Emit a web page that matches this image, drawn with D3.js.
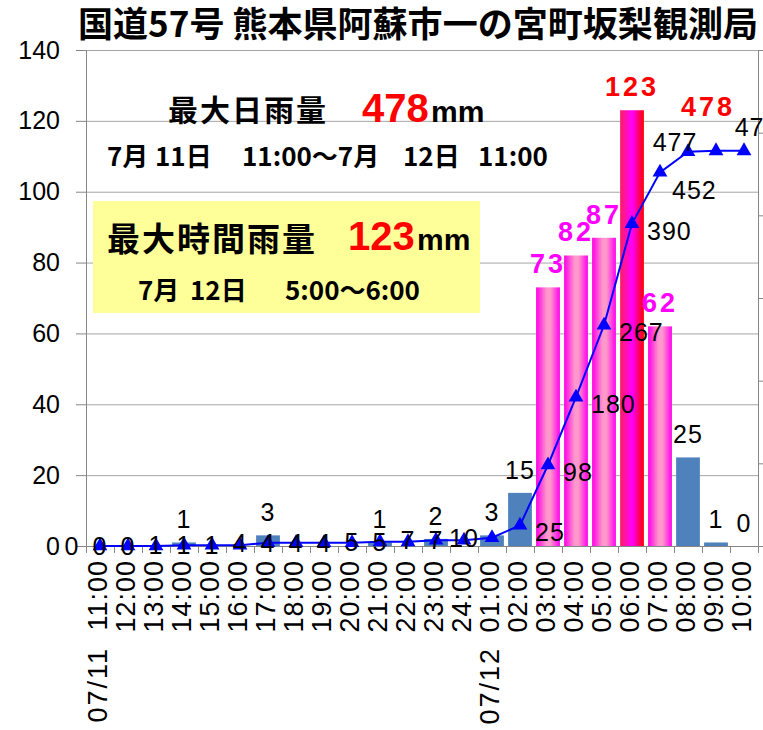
<!DOCTYPE html>
<html>
<head>
<meta charset="utf-8">
<script src="https://cdn.jsdelivr.net/npm/d3@7"></script>
<style>
  html, body { margin: 0; padding: 0; background: #fff; }
  svg { display: block; }
</style>
</head>
<body>
<svg id="chart" width="763" height="730"></svg>
<script>
// 時刻（07/11 11:00 〜 07/12 10:00）
const times = ["11:00","12:00","13:00","14:00","15:00","16:00","17:00","18:00",
  "19:00","20:00","21:00","22:00","23:00","24:00","01:00","02:00","03:00",
  "04:00","05:00","06:00","07:00","08:00","09:00","10:00"];
// 日付ラベル（先頭の時刻の下に表示）
const dates = [{ at: "11:00", label: "07/11" }, { at: "01:00", label: "07/12" }];
// 時間雨量 (mm)
const hourly = [0,0,0,1,0,0,3,0,0,0,1,0,2,0,3,15,73,82,87,123,62,25,1,0];
// 累加雨量 (mm)
const cumulative = [0,0,0,1,1,1,4,4,4,4,5,5,7,7,10,25,98,180,267,390,452,477,478,478];
// 軸目盛
const leftTicks = [0,20,40,60,80,100,120,140];
const rightTicks = [0,100,200,300,400,500,600];

// 累加雨量ラベルの配置
const cumLabelPos = [
  "left","left","left","left","left","left","left","left","left","left",
  "left","left","left","left","left",
  "right","right","right","right","right",
  "belowRight","aboveLeft","peak","aboveRight"
];

const svg = d3.select("#chart");
const W = 763, H = 730;
const plot = { left: 86, right: 758, top: 50, bottom: 546 };
const numFont = "'Liberation Sans', Arial, sans-serif";
const cjkFont = "'Noto Sans CJK JP', 'Noto Sans', sans-serif";

svg.append("rect").attr("width", W).attr("height", H).attr("fill", "#fff");

const x = d3.scaleBand().domain(times)
  .range([plot.left, plot.right]).paddingInner(0.15).paddingOuter(0.075);
const cx = t => x(t) + x.bandwidth() / 2;
const yL = d3.scaleLinear().domain([0, 140]).range([plot.bottom, plot.top]);
const yR = d3.scaleLinear().domain([0, 600]).range([plot.bottom, plot.top]);

// グラデーション
const defs = svg.append("defs");
function hGrad(id, stops) {
  const g = defs.append("linearGradient").attr("id", id)
    .attr("x1", "0%").attr("x2", "100%").attr("y1", "0%").attr("y2", "0%");
  stops.forEach(([o, c]) => g.append("stop").attr("offset", o).attr("stop-color", c));
}
hGrad("pinkGrad", [["0%", "#ff00e6"], ["45%", "#ff99cc"], ["60%", "#ff99cc"], ["100%", "#ff00ee"]]);
hGrad("redGrad", [["0%", "#ff1f60"], ["50%", "#ff00ff"], ["100%", "#ff0000"]]);

// 目盛線
svg.append("g")
  .attr("transform", `translate(${plot.left},0)`)
  .call(d3.axisLeft(yL).tickValues(leftTicks).tickSize(-(plot.right - plot.left)).tickFormat(""))
  .call(g => g.select(".domain").remove())
  .call(g => g.selectAll("line").attr("stroke", "#a6a6a6"));

// 棒の分類
const maxHour = d3.max(hourly);
const kind = v => v === maxHour ? "peak" : (v >= 50 ? "heavy" : "normal");
const barFill = { normal: "#4f81bd", heavy: "url(#pinkGrad)", peak: "url(#redGrad)" };

svg.append("g").selectAll("rect")
  .data(hourly.map((v, i) => ({ t: times[i], v })))
  .join("rect")
  .attr("x", d => x(d.t))
  .attr("y", d => yL(d.v))
  .attr("width", x.bandwidth())
  .attr("height", d => yL(0) - yL(d.v))
  .attr("fill", d => barFill[kind(d.v)]);

// 左軸
svg.append("g")
  .attr("transform", `translate(${plot.left},0)`)
  .call(d3.axisLeft(yL).tickValues(leftTicks).tickSize(10).tickPadding(16))
  .call(g => g.select(".domain").attr("stroke", "#868686"))
  .call(g => g.selectAll("line").attr("stroke", "#868686"))
  .call(g => g.selectAll("text").attr("font-family", numFont).attr("font-size", 25).attr("fill", "#000"));

// 右軸（累加雨量）
svg.append("g")
  .attr("transform", `translate(${plot.right},0)`)
  .call(d3.axisRight(yR).tickValues(rightTicks).tickSize(5).tickFormat(""))
  .call(g => g.select(".domain").attr("stroke", "#868686"))
  .call(g => g.selectAll("line").attr("stroke", "#868686"));

// 横軸
const xb = d3.scaleLinear().domain([0, times.length]).range([plot.left, plot.right]);
svg.append("g")
  .attr("transform", `translate(0,${plot.bottom})`)
  .call(d3.axisBottom(xb).tickValues(d3.range(times.length + 1)).tickSize(7).tickFormat(""))
  .call(g => g.select(".domain").attr("stroke", "#868686"))
  .call(g => g.selectAll("line").attr("stroke", "#868686"));

svg.append("g")
  .attr("transform", `translate(0,${plot.bottom})`)
  .call(d3.axisBottom(x).tickSize(0).tickPadding(0))
  .call(g => g.select(".domain").remove())
  .call(g => g.selectAll("text")
    .attr("transform", "rotate(-90)")
    .attr("x", -14).attr("y", 7).attr("dy", null)
    .attr("text-anchor", "end")
    .attr("font-family", numFont).attr("font-size", 27)
    .attr("letter-spacing", "1px").attr("fill", "#000"));

svg.append("g").selectAll("text")
  .data(dates)
  .join("text")
  .attr("transform", d => `translate(${cx(d.at) + 7},${plot.bottom + 101}) rotate(-90)`)
  .attr("text-anchor", "end")
  .attr("font-family", numFont).attr("font-size", 27)
  .attr("letter-spacing", "2px")
  .text(d => d.label);

// 累加雨量の折れ線
const pts = cumulative.map((v, i) => ({ t: times[i], v, i }));
svg.append("path")
  .datum(pts)
  .attr("fill", "none")
  .attr("stroke", "#0000ff")
  .attr("stroke-width", 2)
  .attr("d", d3.line().x(d => cx(d.t)).y(d => yR(d.v)));

svg.append("g").selectAll("path")
  .data(pts)
  .join("path")
  .attr("transform", d => `translate(${cx(d.t)},${yR(d.v)})`)
  .attr("d", d3.symbol(d3.symbolTriangle, 95))
  .attr("fill", "#0000ff");

// 時間雨量ラベル
const hourColor = { normal: "#000", heavy: "#ff00ff", peak: "#ff0000" };
svg.append("g").selectAll("text")
  .data(hourly.map((v, i) => ({ t: times[i], v, i }))
    .filter(d => d.v > 0 || d.i === hourly.length - 1))
  .join("text")
  .attr("x", d => cx(d.t))
  .attr("y", d => yL(d.v) - 14)
  .attr("text-anchor", "middle")
  .attr("font-family", numFont)
  .attr("font-size", d => kind(d.v) === "normal" ? 25 : 27)
  .attr("font-weight", d => kind(d.v) === "normal" ? "normal" : "bold")
  .attr("letter-spacing", d => kind(d.v) === "normal" ? "1px" : "3px")
  .attr("fill", d => hourColor[kind(d.v)])
  .text(d => d.v);

// 累加雨量ラベル
const place = {
  left:       { dx: -28, dy: 0,   anchor: "middle" },
  right:      { dx: 15,  dy: 7,   anchor: "start" },
  belowRight: { dx: 12,  dy: 18,  anchor: "start" },
  aboveLeft:  { dx: -13, dy: -10, anchor: "middle" },
  peak:       { dx: -8,  dy: -45, anchor: "middle" },
  aboveRight: { dx: 13,  dy: -24, anchor: "middle" }
};
svg.append("g").selectAll("text")
  .data(pts)
  .join("text")
  .each(function(d) {
    const p = place[cumLabelPos[d.i]];
    const isPeak = cumLabelPos[d.i] === "peak";
    const fs = isPeak ? 27 : 25;
    d3.select(this)
      .attr("x", cx(d.t) + p.dx)
      .attr("y", yR(d.v) + p.dy + fs * 0.36)
      .attr("text-anchor", p.anchor)
      .attr("font-family", numFont)
      .attr("font-size", fs)
      .attr("font-weight", isPeak ? "bold" : "normal")
      .attr("letter-spacing", isPeak ? "3px" : "1px")
      .attr("fill", isPeak ? "#ff0000" : "#000");
  })
  .text(d => d.v);

// タイトル
svg.append("text")
  .attr("x", 78).attr("y", 37)
  .attr("font-family", cjkFont).attr("font-weight", "bold").attr("font-size", 35)
  .attr("textLength", 680).attr("lengthAdjust", "spacingAndGlyphs")
  .text("国道57号 熊本県阿蘇市一の宮町坂梨観測局");

// 最大日雨量
const maxDay = d3.max(cumulative);
const maxHourIdx = hourly.indexOf(maxHour);
svg.append("text")
  .attr("x", 168).attr("y", 121)
  .attr("font-family", cjkFont).attr("font-weight", "bold").attr("font-size", 30)
  .attr("letter-spacing", "2px")
  .text("最大日雨量");
svg.append("text")
  .attr("x", 362).attr("y", 122)
  .attr("font-family", numFont).attr("font-weight", "bold").attr("font-size", 40)
  .attr("fill", "#ff0000")
  .text(maxDay);
svg.append("text")
  .attr("x", 431).attr("y", 122)
  .attr("font-family", numFont).attr("font-weight", "bold").attr("font-size", 30)
  .text("mm");

const line2 = svg.append("text")
  .attr("y", 166)
  .attr("font-family", cjkFont).attr("font-weight", "bold").attr("font-size", 26);
[["7月", 107], ["11日", 155], ["11:00～7月", 242], ["12日", 403], ["11:00", 478]]
  .forEach(([s, px]) => line2.append("tspan").attr("x", px).text(s));

// 最大時間雨量
svg.append("rect")
  .attr("x", 93).attr("y", 201).attr("width", 387).attr("height", 112)
  .attr("fill", "#ffff99");
svg.append("text")
  .attr("x", 107).attr("y", 251)
  .attr("font-family", cjkFont).attr("font-weight", "bold").attr("font-size", 33)
  .attr("letter-spacing", "2px")
  .text("最大時間雨量");
svg.append("text")
  .attr("x", 348).attr("y", 250)
  .attr("font-family", numFont).attr("font-weight", "bold").attr("font-size", 40)
  .attr("fill", "#ff0000")
  .text(maxHour);
svg.append("text")
  .attr("x", 417).attr("y", 250)
  .attr("font-family", numFont).attr("font-weight", "bold").attr("font-size", 30)
  .text("mm");

const line4 = svg.append("text")
  .attr("y", 300)
  .attr("font-family", cjkFont).attr("font-weight", "bold").attr("font-size", 26);
const endHour = times[maxHourIdx].replace(/^0/, "");
const startHour = times[maxHourIdx - 1].replace(/^0/, "");
[["7月", 138], ["12日", 190], [`${startHour}～${endHour}`, 285]]
  .forEach(([s, px]) => line4.append("tspan").attr("x", px).text(s));
</script>
</body>
</html>
